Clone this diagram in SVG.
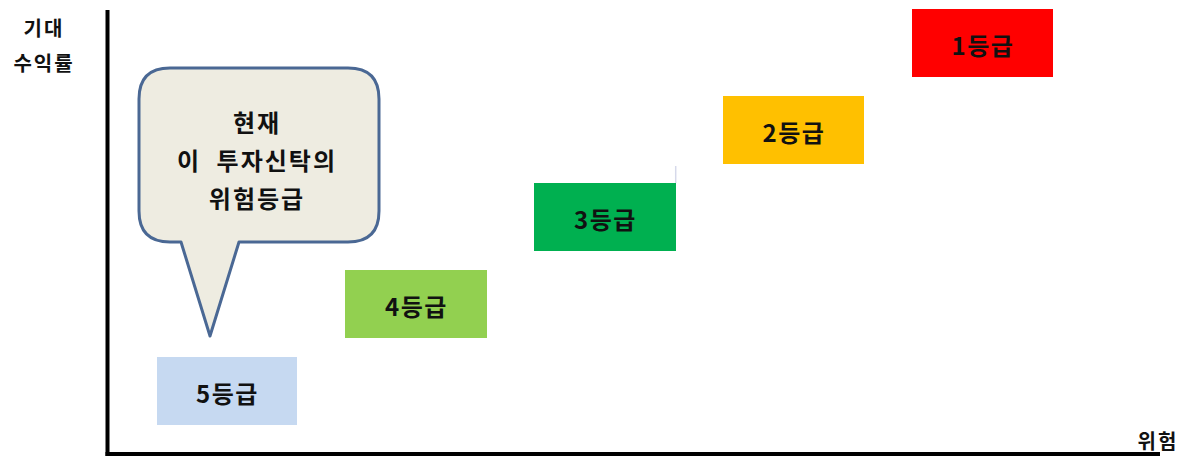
<svg xmlns="http://www.w3.org/2000/svg" width="1188" height="457" viewBox="0 0 1188 457">
<style>
text{font-family:"Noto Sans CJK KR","Liberation Sans",sans-serif;fill:#111;text-anchor:middle;dominant-baseline:central}
.g{font-size:24px;font-weight:bold;letter-spacing:1.5px}
.c{font-size:24px;font-weight:bold;letter-spacing:2px;word-spacing:8px}
.ax{font-size:20px;font-weight:bold;letter-spacing:2px}
.box{stroke:none}
</style>
<rect width="1188" height="457" fill="#fff"/>
<g id="axes">
<line x1="107.5" y1="10" x2="107.5" y2="456" stroke="#000" stroke-width="4"/>
<line x1="105.5" y1="454" x2="1160" y2="454" stroke="#000" stroke-width="4"/>
<line x1="675.7" y1="166" x2="675.7" y2="183" stroke="#d6d9ea" stroke-width="1.5"/>
</g>
<g id="label-y"><text class="ax" x="44" y="27">기대</text><text class="ax" x="44" y="62">수익률</text></g>
<g id="label-x"><text class="ax" x="1158" y="440">위험</text></g>
<g id="grade1"><rect class="box" x="912" y="9" width="141" height="68" fill="#ff0000"/><text class="g" x="983" y="44">1등급</text></g>
<g id="grade2"><rect class="box" x="723" y="96" width="141" height="68" fill="#ffc000"/><text class="g" x="794" y="131">2등급</text></g>
<g id="grade3"><rect class="box" x="534" y="183" width="142" height="68" fill="#00b050"/><text class="g" x="605.5" y="218">3등급</text></g>
<g id="grade4"><rect class="box" x="345" y="270" width="142" height="68" fill="#92d050"/><text class="g" x="416.5" y="305">4등급</text></g>
<g id="grade5"><rect class="box" x="157" y="357" width="140" height="68" fill="#c6d9f1"/><text class="g" x="227.5" y="392">5등급</text></g>
<g id="callout">
<path d="M170,68 H348 Q379,68 379,99 V211 Q379,242 348,242 H239 L210,336 L181,242 H170 Q139,242 139,211 V99 Q139,68 170,68 Z" fill="#eeece1" stroke="#4a6894" stroke-width="3" stroke-linejoin="round"/>
<text class="c" x="257" y="121">현재</text>
<text class="c" x="257" y="159">이 투자신탁의</text>
<text class="c" x="257" y="197">위험등급</text>
</g>
</svg>
